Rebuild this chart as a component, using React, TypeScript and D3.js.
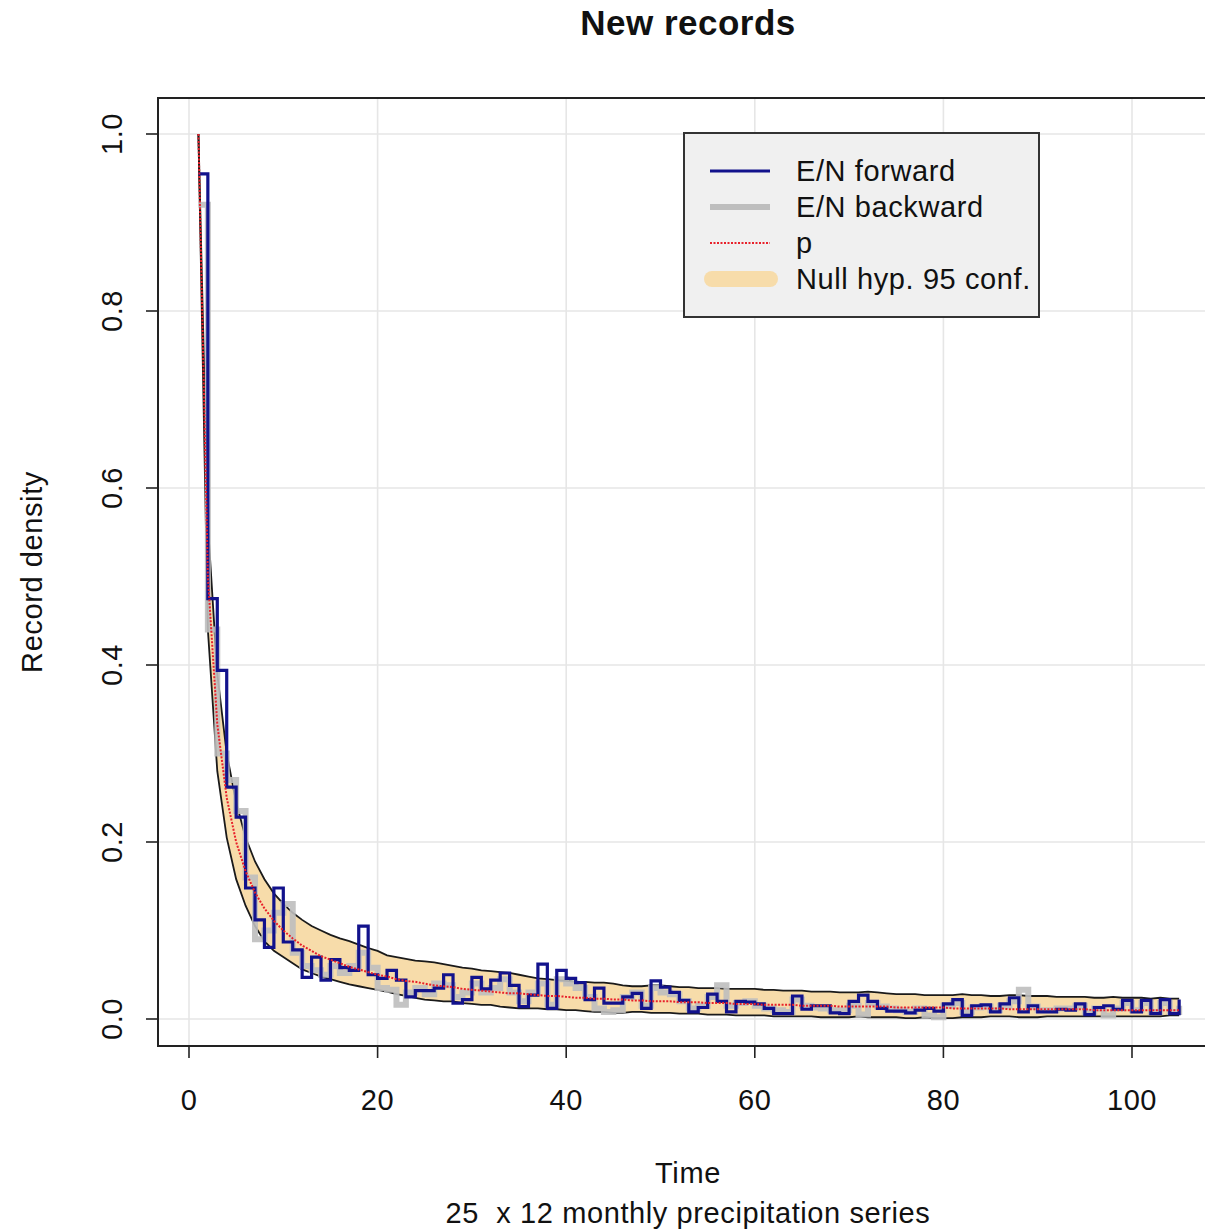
import React from "react";
import * as d3 from "d3";

const times: number[] = Array.from({ length: 105 }, (_, i) => i + 1);

const forward: number[] = [
  0.955, 0.475, 0.394, 0.262, 0.228, 0.148, 0.112, 0.081, 0.148, 0.087,
  0.078, 0.047, 0.070, 0.044, 0.067, 0.058, 0.055, 0.105, 0.050, 0.046,
  0.055, 0.044, 0.025, 0.032, 0.032, 0.035, 0.050, 0.018, 0.022, 0.047,
  0.034, 0.044, 0.052, 0.038, 0.014, 0.027, 0.062, 0.012, 0.055, 0.046,
  0.041, 0.022, 0.035, 0.018, 0.018, 0.025, 0.029, 0.012, 0.043, 0.036,
  0.030, 0.021, 0.008, 0.013, 0.028, 0.020, 0.008, 0.020, 0.019, 0.017,
  0.012, 0.006, 0.006, 0.026, 0.011, 0.015, 0.015, 0.007, 0.006, 0.020,
  0.027, 0.020, 0.012, 0.009, 0.009, 0.007, 0.010, 0.012, 0.009, 0.017,
  0.022, 0.004, 0.015, 0.016, 0.008, 0.017, 0.024, 0.008, 0.015, 0.008,
  0.008, 0.011, 0.010, 0.017, 0.005, 0.013, 0.015, 0.011, 0.021, 0.008,
  0.021, 0.006, 0.022, 0.006, 0.022,
];

const backward: number[] = [
  0.920, 0.440, 0.300, 0.270, 0.235, 0.160, 0.090, 0.100, 0.120, 0.130,
  0.075, 0.060, 0.055, 0.050, 0.060, 0.052, 0.060, 0.075, 0.058, 0.035,
  0.033, 0.016, 0.030, 0.035, 0.028, 0.040, 0.038, 0.025, 0.030, 0.040,
  0.030, 0.035, 0.045, 0.030, 0.020, 0.030, 0.040, 0.016, 0.045, 0.040,
  0.035, 0.025, 0.012, 0.008, 0.010, 0.025, 0.030, 0.015, 0.035, 0.030,
  0.028, 0.020, 0.012, 0.015, 0.025, 0.038, 0.015, 0.018, 0.020, 0.015,
  0.012, 0.010, 0.008, 0.022, 0.015, 0.013, 0.012, 0.010, 0.010, 0.015,
  0.005, 0.018, 0.014, 0.012, 0.010, 0.008, 0.012, 0.004, 0.002, 0.015,
  0.018, 0.008, 0.013, 0.014, 0.010, 0.015, 0.020, 0.033, 0.014, 0.010,
  0.010, 0.012, 0.012, 0.015, 0.008, 0.012, 0.004, 0.012, 0.018, 0.010,
  0.018, 0.008, 0.018, 0.008, 0.015,
];

const pValues: number[] = [
  1.000, 0.500, 0.333, 0.250, 0.200, 0.167, 0.143, 0.125, 0.111, 0.100,
  0.091, 0.083, 0.077, 0.071, 0.067, 0.063, 0.059, 0.056, 0.053, 0.050,
  0.048, 0.045, 0.043, 0.042, 0.040, 0.038, 0.037, 0.036, 0.034, 0.033,
  0.032, 0.031, 0.030, 0.029, 0.029, 0.028, 0.027, 0.026, 0.026, 0.025,
  0.024, 0.024, 0.023, 0.023, 0.022, 0.022, 0.021, 0.021, 0.020, 0.020,
  0.020, 0.019, 0.019, 0.019, 0.018, 0.018, 0.018, 0.017, 0.017, 0.017,
  0.016, 0.016, 0.016, 0.016, 0.015, 0.015, 0.015, 0.015, 0.014, 0.014,
  0.014, 0.014, 0.014, 0.014, 0.013, 0.013, 0.013, 0.013, 0.013, 0.013,
  0.012, 0.012, 0.012, 0.012, 0.012, 0.012, 0.011, 0.011, 0.011, 0.011,
  0.011, 0.011, 0.011, 0.011, 0.011, 0.010, 0.010, 0.010, 0.010, 0.010,
  0.010, 0.010, 0.010, 0.010, 0.010,
];

const bandUpper: number[] = [
  1.000, 0.560, 0.390, 0.300, 0.245, 0.205, 0.178, 0.158, 0.142, 0.130,
  0.120, 0.112, 0.105, 0.100, 0.095, 0.091, 0.088, 0.084, 0.080, 0.077,
  0.072, 0.070, 0.068, 0.066, 0.065, 0.064, 0.062, 0.060, 0.058, 0.057,
  0.055, 0.054, 0.053, 0.052, 0.050, 0.048, 0.046, 0.045, 0.044, 0.043,
  0.042, 0.042, 0.041, 0.041, 0.040, 0.038, 0.037, 0.037, 0.038, 0.038,
  0.037, 0.036, 0.036, 0.035, 0.035, 0.035, 0.034, 0.034, 0.034, 0.034,
  0.033, 0.033, 0.032, 0.032, 0.032, 0.031, 0.031, 0.031, 0.030, 0.030,
  0.030, 0.031, 0.030, 0.029, 0.028, 0.028, 0.028, 0.027, 0.027, 0.027,
  0.027, 0.028, 0.027, 0.027, 0.026, 0.026, 0.027, 0.027, 0.026, 0.026,
  0.026, 0.025, 0.025, 0.025, 0.025, 0.024, 0.024, 0.025, 0.024, 0.024,
  0.024, 0.023, 0.024, 0.023, 0.023,
];

const bandLower: number[] = [
  1.000, 0.440, 0.280, 0.205, 0.158, 0.128, 0.105, 0.088, 0.077, 0.070,
  0.063, 0.056, 0.052, 0.048, 0.045, 0.042, 0.039, 0.037, 0.035, 0.033,
  0.031, 0.028, 0.026, 0.024, 0.022, 0.021, 0.020, 0.020, 0.018, 0.017,
  0.016, 0.016, 0.014, 0.013, 0.012, 0.012, 0.012, 0.011, 0.011, 0.010,
  0.010, 0.009, 0.008, 0.008, 0.007, 0.007, 0.008, 0.008, 0.007, 0.007,
  0.007, 0.006, 0.006, 0.006, 0.005, 0.005, 0.005, 0.004, 0.004, 0.004,
  0.004, 0.003, 0.003, 0.003, 0.003, 0.003, 0.002, 0.002, 0.002, 0.002,
  0.003, 0.002, 0.002, 0.002, 0.002, 0.001, 0.001, 0.002, 0.001, 0.001,
  0.001, 0.002, 0.002, 0.002, 0.003, 0.003, 0.003, 0.002, 0.002, 0.002,
  0.003, 0.003, 0.003, 0.003, 0.003, 0.003, 0.003, 0.003, 0.003, 0.003,
  0.003, 0.003, 0.003, 0.004, 0.004,
];

const xTicks: number[] = [0, 20, 40, 60, 80, 100];
const yTicks: number[] = [0, 0.2, 0.4, 0.6, 0.8, 1.0];

const legendLabels: string[] = ["E/N forward", "E/N backward", "p", "Null hyp. 95 conf."];

const W = 1205;
const H = 1231;
const FONT = "'Liberation Sans', Arial, Helvetica, sans-serif";

export default function App() {
  const x = d3.scaleLinear().domain([0, 100]).range([189, 1132]);
  const y = d3.scaleLinear().domain([0, 1]).range([1019, 134]);
  const box = { left: 158, right: 1218, top: 98, bottom: 1046 };

  const fwdPts = times.map((t, i) => [t, forward[i]] as [number, number]);
  const bwdPts = times.map((t, i) => [t, backward[i]] as [number, number]);
  const pPts = times.map((t, i) => [t, pValues[i]] as [number, number]);
  const upPts = times.map((t, i) => [t, bandUpper[i]] as [number, number]);
  const loPts = times.map((t, i) => [t, bandLower[i]] as [number, number]);

  const step = d3
    .line<[number, number]>()
    .x((d) => x(d[0]))
    .y((d) => y(d[1]))
    .curve(d3.curveStepAfter);
  const lin = d3
    .line<[number, number]>()
    .x((d) => x(d[0]))
    .y((d) => y(d[1]));
  const area = d3
    .area<number>()
    .x((t) => x(t))
    .y0((_, i) => y(bandLower[i]))
    .y1((_, i) => y(bandUpper[i]));

  const blue = "#12128c";
  const gray = "#bebebe";
  const wheat = "#f7dcaa";
  const red = "#e8202a";

  const legX = 684;
  const legY = 133;
  const legRow = (i: number) => legY + 38 + i * 36;

  return (
    <svg
      width={W}
      height={H}
      style={{ position: "absolute", left: 0, top: 0, display: "block", background: "#fff" }}
      fontFamily={FONT}
    >
      <defs>
        <clipPath id="plotclip">
          <rect x={box.left} y={box.top} width={box.right - box.left} height={box.bottom - box.top} />
        </clipPath>
      </defs>
      <rect x={0} y={0} width={W} height={H} fill="#fff" />

      {/* grid */}
      <g clipPath="url(#plotclip)" stroke="#e6e6e6" strokeWidth={1.6}>
        {xTicks.map((t) => (
          <line key={"gx" + t} x1={x(t)} x2={x(t)} y1={box.top} y2={box.bottom} />
        ))}
        {yTicks.map((t) => (
          <line key={"gy" + t} x1={box.left} x2={box.right} y1={y(t)} y2={y(t)} />
        ))}
      </g>

      <g clipPath="url(#plotclip)">
        {/* confidence band */}
        <path d={area(times) || ""} fill={wheat} stroke="none" />
        <path d={lin(upPts) || ""} fill="none" stroke="#1a1a1a" strokeWidth={1.8} />
        <path d={lin(loPts) || ""} fill="none" stroke="#1a1a1a" strokeWidth={1.8} />
        {/* backward */}
        <path d={step(bwdPts) || ""} fill="none" stroke={gray} strokeWidth={6} opacity={0.9} />
        {/* forward */}
        <path d={step(fwdPts) || ""} fill="none" stroke={blue} strokeWidth={3.2} />
        {/* p */}
        <path d={lin(pPts) || ""} fill="none" stroke={red} strokeWidth={2} strokeDasharray="2,1.5" />
      </g>

      {/* box */}
      <rect
        x={box.left}
        y={box.top}
        width={box.right - box.left}
        height={box.bottom - box.top}
        fill="none"
        stroke="#222"
        strokeWidth={2}
      />

      {/* x axis ticks */}
      <g>
        {xTicks.map((t) => (
          <g key={"xt" + t}>
            <line x1={x(t)} x2={x(t)} y1={box.bottom} y2={box.bottom + 12} stroke="#222" strokeWidth={1.6} />
            <text x={x(t)} y={1110} textAnchor="middle" fontSize={29} fill="#111" letterSpacing={0.6}>
              {t}
            </text>
          </g>
        ))}
      </g>

      {/* y axis ticks */}
      <g>
        {yTicks.map((t) => (
          <g key={"yt" + t}>
            <line x1={box.left - 12} x2={box.left} y1={y(t)} y2={y(t)} stroke="#222" strokeWidth={1.6} />
            <text
              transform={`translate(122, ${y(t)}) rotate(-90)`}
              textAnchor="middle"
              fontSize={29}
              fill="#111"
              letterSpacing={0.6}
            >
              {t.toFixed(1)}
            </text>
          </g>
        ))}
      </g>

      {/* title and labels */}
      <text x={688} y={35} textAnchor="middle" fontSize={35} fontWeight="bold" fill="#111" letterSpacing={0.5}>
        New records
      </text>
      <text x={688} y={1183} textAnchor="middle" fontSize={29} fill="#111" letterSpacing={0.6}>
        Time
      </text>
      <text
        x={688}
        y={1223}
        textAnchor="middle"
        fontSize={29}
        fill="#111"
        letterSpacing={0.6}
        style={{ whiteSpace: "pre" }}
      >
        {"25  x 12 monthly precipitation series"}
      </text>
      <text
        transform={`translate(42, 572) rotate(-90)`}
        textAnchor="middle"
        fontSize={29}
        fill="#111"
        letterSpacing={0.6}
      >
        Record density
      </text>

      {/* legend */}
      <g>
        <rect x={legX} y={legY} width={355} height={184} fill="#f0f0f0" stroke="#333" strokeWidth={2} />
        <line x1={710} x2={770} y1={legRow(0)} y2={legRow(0)} stroke={blue} strokeWidth={3.2} />
        <line x1={710} x2={770} y1={legRow(1)} y2={legRow(1)} stroke={gray} strokeWidth={6} />
        <line x1={710} x2={770} y1={legRow(2)} y2={legRow(2)} stroke={red} strokeWidth={2} strokeDasharray="2,1.5" />
        <line x1={712} x2={770} y1={legRow(3)} y2={legRow(3)} stroke={wheat} strokeWidth={16} strokeLinecap="round" />
        {legendLabels.map((s, i) => (
          <text key={s} x={796} y={legRow(i) + 10} fontSize={29} fill="#111" letterSpacing={0.6}>
            {s}
          </text>
        ))}
      </g>
    </svg>
  );
}
